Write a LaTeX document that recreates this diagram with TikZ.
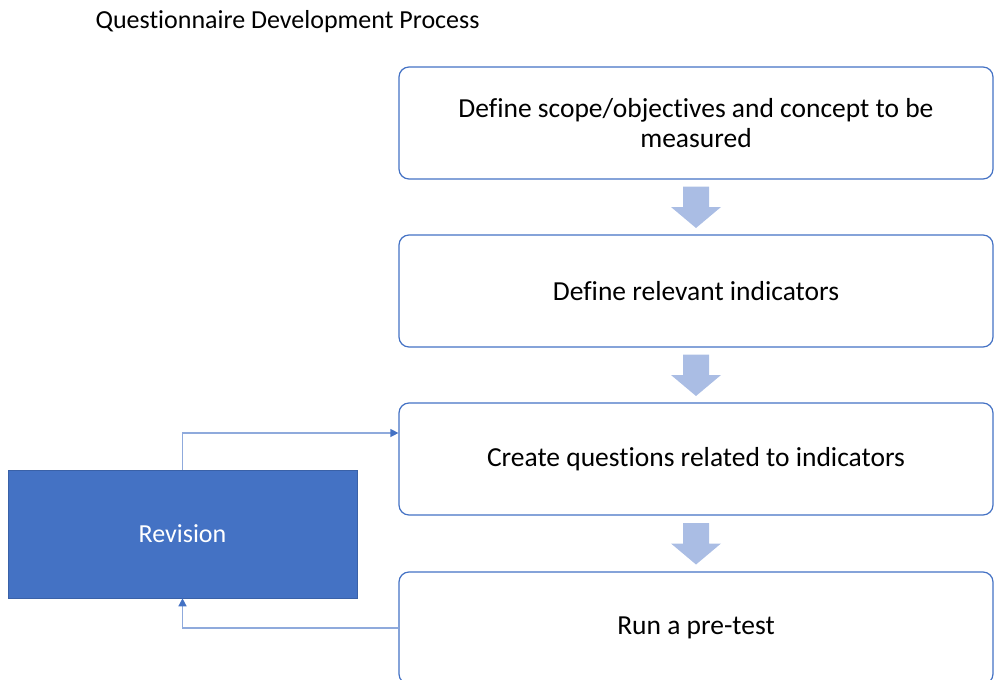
\documentclass[tikz,border=0pt]{standalone}
\usepackage{fontspec}
\setmainfont[Ligatures={NoCommon}]{Carlito}
\usetikzlibrary{arrows.meta,calc}

\definecolor{boxblue}{HTML}{4472C4}
\definecolor{linkblue}{HTML}{8FAADC}
\definecolor{arrowfill}{HTML}{AABDE4}

\tikzset{
  step box/.style={draw=boxblue, line width=1.2pt, rounded corners=10pt,
    minimum width=594, minimum height=112, align=center,
    font=\fontsize{27.5}{30}\selectfont},
  rev box/.style={fill=boxblue, draw=boxblue!85!black, line width=0.6pt,
    minimum width=349, minimum height=128, text=white,
    font=\fontsize{26}{30}\selectfont},
  link/.style={draw=linkblue, line width=1.3pt,
    -{Triangle[length=8pt,width=8pt,fill=boxblue,color=boxblue]}},
  downarrow/.pic={
    \fill[arrowfill] (-13,-20.5) -- (13,-20.5) -- (13,0) -- (25,0)
      -- (0,21) -- (-25,0) -- (-13,0) -- cycle;
  }
}

\begin{document}
\begin{tikzpicture}[x=1pt,y=-1pt]
  \useasboundingbox (0,0) rectangle (994,680);
  \clip (0,0) rectangle (994,680);

  \node[anchor=west, font=\fontsize{26}{30}\selectfont] (title) at (92,22)
    {Questionnaire Development Process};

  % the four steps
  \node[step box] (scope) at (696,123)
    {Define scope/objectives and concept to be\\ measured};
  \node[step box] (ind) at (696,291) {Define relevant indicators};
  \node[step box] (quest) at (696,459) {Create questions related to indicators};
  \node[step box] (pretest) at (696,628) {Run a pre-test};

  % block arrows between the steps
  \pic at ($(scope.south)!0.5!(ind.north)$) {downarrow};
  \pic at ($(ind.south)!0.5!(quest.north)$) {downarrow};
  \pic at ($(quest.south)!0.5!(pretest.north)$) {downarrow};

  % revision loop
  \node[rev box] (rev) at (182.5,534) {Revision};
  \draw[link] (rev.north) |- ($(quest.west)+(0,-26)$);
  \draw[link] (pretest.west) -| (rev.south);
\end{tikzpicture}
\end{document}
